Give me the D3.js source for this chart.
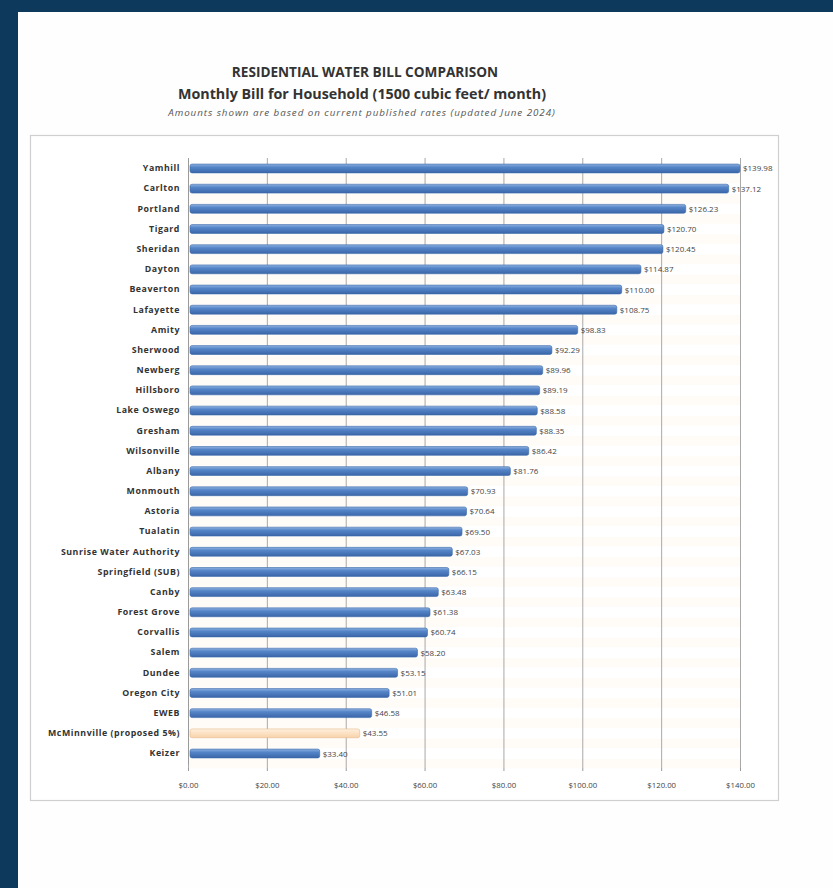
<!DOCTYPE html>
<html>
<head>
<meta charset="utf-8">
<script src="https://cdn.jsdelivr.net/npm/d3@7"></script>
<style>
  html, body { margin: 0; padding: 0; background: #ffffff; }
  svg { display: block; }
</style>
</head>
<body>
<svg id="chart" width="833" height="888"></svg>
<script>
// Monthly household water bill by provider (1500 cubic feet / month)
const cities = [
  "Yamhill", "Carlton", "Portland", "Tigard", "Sheridan", "Dayton", "Beaverton",
  "Lafayette", "Amity", "Sherwood", "Newberg", "Hillsboro", "Lake Oswego",
  "Gresham", "Wilsonville", "Albany", "Monmouth", "Astoria", "Tualatin",
  "Sunrise Water Authority", "Springfield (SUB)", "Canby", "Forest Grove",
  "Corvallis", "Salem", "Dundee", "Oregon City", "EWEB",
  "McMinnville (proposed 5%)", "Keizer"
];
const bills = [
  139.98, 137.12, 126.23, 120.70, 120.45, 114.87, 110.00,
  108.75, 98.83, 92.29, 89.96, 89.19, 88.58,
  88.35, 86.42, 81.76, 70.93, 70.64, 69.50,
  67.03, 66.15, 63.48, 61.38,
  60.74, 58.20, 53.15, 51.01, 46.58,
  43.55, 33.40
];
const highlighted = ["McMinnville (proposed 5%)"];
const tickValues = [0, 20, 40, 60, 80, 100, 120, 140];
const tickLabels = ["$0.00", "$20.00", "$40.00", "$60.00", "$80.00", "$100.00", "$120.00", "$140.00"];

const titleLines = [
  "RESIDENTIAL WATER BILL COMPARISON",
  "Monthly Bill for Household (1500 cubic feet/ month)"
];
const noteLine = "Amounts shown are based on current published rates (updated June 2024)";

const svg = d3.select("#chart");
const W = 833, H = 888;

// page frame: dark navy band along the top and left edges
svg.append("rect").attr("x", 0).attr("y", 0).attr("width", W).attr("height", H).attr("fill", "#0d3a5c");
svg.append("rect").attr("x", 18).attr("y", 12).attr("width", W - 18).attr("height", H - 12).attr("fill", "#fefefe");

const font = "'Open Sans', 'Liberation Sans', sans-serif";

// titles
svg.append("text").attr("x", 365).attr("y", 77).attr("text-anchor", "middle")
  .attr("font-family", font).attr("font-weight", 700).attr("font-size", 13.6)
  .attr("fill", "#333").text(titleLines[0]);
svg.append("text").attr("x", 362).attr("y", 99).attr("text-anchor", "middle")
  .attr("font-family", font).attr("font-weight", 700).attr("font-size", 14.3)
  .attr("fill", "#333").text(titleLines[1]);
svg.append("text").attr("x", 362).attr("y", 116).attr("text-anchor", "middle")
  .attr("font-family", font).attr("font-style", "italic").attr("font-size", 9.8)
  .attr("letter-spacing", 0.95)
  .attr("fill", "#555").text(noteLine);

// chart frame
svg.append("rect").attr("x", 30.5).attr("y", 135.5).attr("width", 748).attr("height", 665)
  .attr("fill", "#ffffff").attr("stroke", "#cfcfcf").attr("stroke-width", 1.2);

const plot = { left: 188, right: 740, top: 158, bottom: 764 };

const x = d3.scaleLinear().domain([0, 140]).range([plot.left, plot.right]);
const y = d3.scaleBand().domain(cities).range([plot.top, plot.bottom]).paddingInner(0.56).paddingOuter(0.3);

// very faint row banding between bars
const bandG = svg.append("g");
cities.forEach((c, i) => {
  bandG.append("rect")
    .attr("x", plot.left).attr("width", plot.right - plot.left)
    .attr("y", y(c) + y.bandwidth() + 1).attr("height", y.step() - y.bandwidth() - 2)
    .attr("fill", "#fffbf7");
});

// vertical gridlines
svg.append("g").selectAll("line").data(tickValues).join("line")
  .attr("x1", d => x(d) + 0.5).attr("x2", d => x(d) + 0.5)
  .attr("y1", plot.top).attr("y2", plot.bottom + 4)
  .attr("stroke", "#a9a9a9").attr("stroke-width", 1);

// bar gradients
const defs = svg.append("defs");
const gBlue = defs.append("linearGradient").attr("id", "gBlue").attr("x1", 0).attr("y1", 0).attr("x2", 0).attr("y2", 1);
gBlue.append("stop").attr("offset", "0%").attr("stop-color", "#8fb2e0");
gBlue.append("stop").attr("offset", "35%").attr("stop-color", "#5585c8");
gBlue.append("stop").attr("offset", "100%").attr("stop-color", "#3a66a8");
const gPeach = defs.append("linearGradient").attr("id", "gPeach").attr("x1", 0).attr("y1", 0).attr("x2", 0).attr("y2", 1);
gPeach.append("stop").attr("offset", "0%").attr("stop-color", "#fff0de");
gPeach.append("stop").attr("offset", "100%").attr("stop-color", "#f8d2a8");

// bars
svg.append("g").selectAll("rect").data(cities).join("rect")
  .attr("x", x(0) + 2)
  .attr("y", d => y(d))
  .attr("width", (d, i) => x(bills[i]) - x(0) - 2)
  .attr("height", y.bandwidth())
  .attr("rx", 2)
  .attr("fill", d => highlighted.includes(d) ? "url(#gPeach)" : "url(#gBlue)")
  .attr("stroke", d => highlighted.includes(d) ? "#e4b88a" : "#3d68a6")
  .attr("stroke-width", 0.6);

// value labels
svg.append("g").selectAll("text").data(cities).join("text")
  .attr("x", (d, i) => x(bills[i]) + 3)
  .attr("y", d => y(d) + y.bandwidth() / 2 + 3)
  .attr("font-family", font).attr("font-size", 8).attr("fill", "#444")
  .text((d, i) => "$" + d3.format(".2f")(bills[i]));

// category axis
const yAxis = svg.append("g").attr("transform", `translate(${plot.left},0)`)
  .call(d3.axisLeft(y).tickSize(0).tickPadding(8));
yAxis.select(".domain").attr("stroke", "#9a9a9a");
yAxis.selectAll("text").attr("font-family", font).attr("font-weight", 700)
  .attr("font-size", 8.8).attr("letter-spacing", 0.55).attr("fill", "#333");

// value axis
const xAxis = svg.append("g").attr("transform", `translate(0,${plot.bottom + 4})`)
  .call(d3.axisBottom(x).tickValues(tickValues).tickSize(3).tickPadding(11)
    .tickFormat((d, i) => tickLabels[i]));
xAxis.select(".domain").remove();
xAxis.selectAll("line").attr("stroke", "#9a9a9a");
xAxis.selectAll("text").attr("font-family", font).attr("font-size", 7.8).attr("fill", "#444");
</script>
</body>
</html>
